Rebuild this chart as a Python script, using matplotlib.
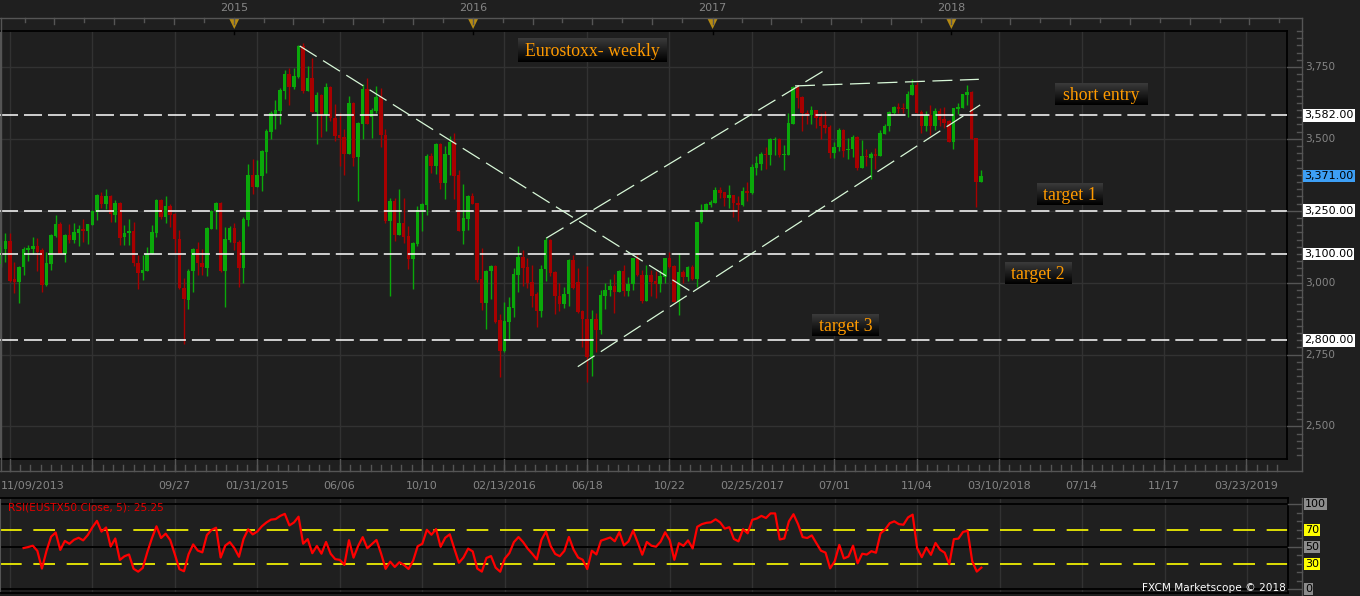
import numpy as np
import pandas as pd
import matplotlib
matplotlib.use('Agg')
import matplotlib.pyplot as plt
import matplotlib.dates as mdates
from matplotlib import transforms
from matplotlib.lines import Line2D
from matplotlib.patches import Polygon
from matplotlib.colors import LinearSegmentedColormap

# ---- data: Eurostoxx 50 weekly candles (first bar = week of 2014-01-04) ----
first_week = '2014-01-04'
opens = [
    3065, 3116, 3145, 3012, 3004, 3053, 3114, 3117, 3128, 3112,
    2993, 3066, 3163, 3204, 3100, 3165, 3149, 3173, 3187, 3178,
    3201, 3247, 3303, 3275, 3302, 3236, 3277, 3158, 3171, 3179,
    3069, 3032, 3042, 3100, 3174, 3288, 3230, 3267, 3239, 3152,
    2982, 2940, 3039, 3117, 3069, 3052, 3188, 3248, 3277, 3039,
    3150, 3190, 3142, 3052, 3219, 3375, 3334, 3372, 3455, 3525,
    3587, 3598, 3668, 3726, 3680, 3715, 3823, 3667, 3712, 3594,
    3653, 3583, 3680, 3574, 3514, 3507, 3449, 3625, 3436, 3553,
    3673, 3577, 3598, 3646, 3514, 3215, 3284, 3167, 3208, 3163,
    3083, 3135, 3251, 3270, 3441, 3407, 3482, 3348, 3445, 3489,
    3374, 3181, 3222, 3302, 3276, 3013, 2931, 3039, 3058, 2871,
    2761, 2865, 2913, 3028, 3091, 3055, 3003, 2959, 2902, 3046,
    3149, 3037, 2955, 2927, 2959, 3079, 3003, 2902, 2874, 2743,
    2874, 2834, 2955, 2973, 2989, 2969, 3041, 2971, 2995, 3085,
    3027, 2938, 3027, 3006, 2997, 3021, 3085, 3058, 2934, 3037,
    3020, 3055, 3013, 3210, 3251, 3271, 3278, 3322, 3315, 3296,
    3304, 3277, 3270, 3320, 3311, 3400, 3414, 3448, 3444, 3496,
    3500, 3445, 3445, 3553, 3679, 3646, 3591, 3582, 3600, 3577,
    3548, 3541, 3452, 3470, 3531, 3460, 3464, 3507, 3400, 3441,
    3435, 3448, 3442, 3518, 3543, 3591, 3611, 3607, 3605, 3654,
    3687, 3592, 3543, 3582, 3546, 3597, 3568, 3563, 3490, 3605,
    3609, 3654, 3663, 3502, 3351,
]
highs = [
    3149, 3172, 3172, 3071, 3057, 3123, 3131, 3159, 3156, 3120,
    3108, 3170, 3236, 3211, 3168, 3205, 3208, 3201, 3222, 3205,
    3251, 3307, 3315, 3326, 3304, 3288, 3279, 3201, 3222, 3210,
    3095, 3096, 3125, 3201, 3290, 3290, 3302, 3274, 3241, 3183,
    3018, 3048, 3119, 3141, 3118, 3194, 3251, 3281, 3280, 3193,
    3198, 3208, 3147, 3229, 3413, 3430, 3427, 3463, 3534, 3598,
    3635, 3677, 3740, 3747, 3748, 3826, 3833, 3753, 3781, 3663,
    3655, 3693, 3685, 3621, 3589, 3533, 3649, 3627, 3557, 3691,
    3712, 3607, 3684, 3677, 3533, 3295, 3295, 3326, 3294, 3197,
    3142, 3267, 3276, 3449, 3452, 3485, 3484, 3475, 3510, 3519,
    3392, 3343, 3304, 3311, 3278, 3121, 3044, 3060, 3060, 2891,
    2934, 2949, 3050, 3128, 3114, 3087, 3062, 2969, 3062, 3160,
    3151, 3041, 2998, 2986, 3081, 3096, 3051, 2904, 3059, 2905,
    2894, 2976, 2998, 3012, 3031, 3044, 3062, 3021, 3087, 3096,
    3044, 3062, 3044, 3041, 3044, 3087, 3108, 3060, 3102, 3044,
    3058, 3062, 3212, 3274, 3276, 3289, 3332, 3332, 3317, 3340,
    3306, 3302, 3332, 3350, 3413, 3441, 3456, 3470, 3502, 3507,
    3502, 3479, 3591, 3684, 3687, 3648, 3600, 3614, 3602, 3589,
    3597, 3548, 3489, 3537, 3534, 3504, 3514, 3509, 3496, 3465,
    3456, 3467, 3531, 3552, 3596, 3614, 3624, 3624, 3668, 3708,
    3697, 3602, 3597, 3617, 3609, 3609, 3610, 3566, 3609, 3625,
    3657, 3687, 3665, 3504, 3392,
]
lows = [
    3056, 3071, 3004, 2963, 2931, 3025, 3077, 3100, 3042, 2969,
    2990, 3044, 3158, 3098, 3073, 3137, 3138, 3129, 3143, 3136,
    3199, 3219, 3259, 3256, 3212, 3211, 3132, 3132, 3132, 3057,
    2977, 3010, 3040, 3098, 3160, 3220, 3209, 3192, 3102, 2978,
    2786, 2907, 2966, 3028, 3028, 3024, 3185, 3188, 3036, 2917,
    3142, 3112, 2986, 2999, 3198, 3310, 3332, 3320, 3383, 3500,
    3536, 3552, 3639, 3619, 3673, 3713, 3658, 3665, 3592, 3483,
    3507, 3529, 3561, 3494, 3407, 3376, 3447, 3407, 3285, 3500,
    3550, 3503, 3590, 3473, 3208, 2952, 3144, 3165, 3139, 3049,
    2978, 3128, 3180, 3237, 3382, 3378, 3326, 3291, 3376, 3291,
    3179, 3135, 3183, 3273, 3004, 2905, 2839, 2944, 2860, 2672,
    2759, 2800, 2879, 2966, 2990, 2983, 2916, 2846, 2882, 3007,
    3023, 2891, 2903, 2913, 2920, 2979, 2894, 2778, 2656, 2677,
    2758, 2820, 2910, 2952, 2894, 2967, 2952, 2952, 2975, 3023,
    2929, 2936, 2952, 2946, 2966, 2998, 3052, 2932, 2888, 2998,
    3007, 3011, 2984, 3208, 3249, 3262, 3276, 3294, 3267, 3261,
    3230, 3216, 3268, 3285, 3309, 3375, 3391, 3395, 3410, 3445,
    3436, 3393, 3443, 3551, 3606, 3529, 3551, 3550, 3539, 3500,
    3522, 3435, 3435, 3458, 3437, 3430, 3438, 3393, 3398, 3404,
    3362, 3395, 3440, 3516, 3529, 3587, 3591, 3591, 3577, 3651,
    3589, 3522, 3529, 3514, 3531, 3543, 3537, 3488, 3466, 3587,
    3607, 3616, 3498, 3262, 3349,
]
closes = [
    3125, 3145, 3007, 3004, 3055, 3117, 3122, 3128, 3108, 2993,
    3069, 3165, 3203, 3100, 3166, 3149, 3175, 3187, 3178, 3203,
    3248, 3305, 3275, 3302, 3238, 3277, 3157, 3173, 3180, 3068,
    3032, 3044, 3101, 3176, 3288, 3230, 3267, 3237, 3152, 2980,
    2942, 3041, 3117, 3068, 3054, 3190, 3249, 3277, 3039, 3152,
    3190, 3138, 3052, 3222, 3375, 3334, 3375, 3457, 3528, 3589,
    3600, 3670, 3726, 3680, 3719, 3823, 3668, 3712, 3594, 3653,
    3584, 3680, 3573, 3511, 3503, 3449, 3625, 3434, 3555, 3673,
    3552, 3600, 3646, 3512, 3215, 3284, 3167, 3207, 3160, 3084,
    3137, 3253, 3274, 3441, 3407, 3482, 3348, 3446, 3489, 3371,
    3181, 3225, 3302, 3275, 3010, 2931, 3042, 3058, 2865, 2761,
    2867, 2916, 3030, 3091, 3052, 2999, 2955, 2902, 3048, 3149,
    3035, 2952, 2927, 2962, 3079, 2981, 2898, 2873, 2743, 2874,
    2834, 2958, 2975, 2989, 2969, 3041, 2971, 2997, 3085, 3025,
    2938, 3027, 3003, 2997, 3024, 3085, 3054, 2934, 3037, 3020,
    3055, 3013, 3210, 3253, 3274, 3281, 3322, 3313, 3296, 3305,
    3276, 3270, 3320, 3311, 3402, 3417, 3448, 3444, 3500, 3500,
    3444, 3448, 3555, 3679, 3643, 3589, 3585, 3600, 3574, 3546,
    3539, 3452, 3472, 3531, 3459, 3466, 3507, 3400, 3441, 3436,
    3448, 3442, 3521, 3545, 3594, 3611, 3605, 3604, 3656, 3687,
    3591, 3543, 3582, 3546, 3597, 3567, 3554, 3490, 3607, 3611,
    3655, 3663, 3500, 3351, 3371,
]

levels = [3582, 3250, 3100, 2800]
last_price = 3371
price_ticks = [2500, 2750, 3000, 3250, 3500, 3750]
# 3,250 is hidden behind the 3,250.00 level box
price_tick_labels = ['2,500', '2,750', '3,000', '', '3,500', '3,750']

grid_start = '2014-01-18'          # one grid line every 18 weeks
date_labels = ['', '', '09/27', '01/31/2015', '06/06', '10/10', '02/13/2016',
               '06/18', '10/22', '02/25/2017', '07/01', '11/04', '03/10/2018',
               '07/14', '11/17', '03/23/2019']
first_label = '11/09/2013'
years = ['2015', '2016', '2017', '2018']

# hand-drawn trend lines (date, price)
trend_lines = [
    (('2015-04-06', 3823), ('2016-11-25', 2968)),
    (('2016-06-04', 2708), ('2018-02-09', 3618)),
    (('2016-04-17', 3155), ('2017-06-21', 3745)),
    (('2017-05-02', 3684), ('2018-02-07', 3707)),
]
notes = [
    ('Eurostoxx- weekly', 518, 38, 667, 62),
    ('short entry', 1055, 83, 1148, 105),
    ('target 1', 1037, 183, 1103, 205),
    ('target 2', 1005, 262, 1071, 284),
    ('target 3', 812, 314, 879, 336),
]

rsi_levels = [100, 70, 50, 30, 0]
rsi_period = 5
rsi_title = 'RSI(EUSTX50.Close, 5): 25.25'

# ---- colours ----
BG = '#1f1f1f'
GRID = '#323232'
FRAME = '#555555'
TXT = '#858585'
UP = '#0aa80a'
DOWN = '#a80000'

W, H = 1360, 596


def fx(x):
    return x / W


def fy(y):
    return 1 - y / H


plt.rcParams['font.family'] = ['DejaVu Sans']
fig = plt.figure(figsize=(W / 100, H / 100), dpi=100, facecolor=BG)

ax = fig.add_axes([0, fy(459), fx(1287), (459 - 31) / H])
ax.set_facecolor(BG)

dates = pd.date_range(first_week, periods=len(closes), freq='7D')
dn = mdates.date2num(dates)
o = np.array(opens, float)
h = np.array(highs, float)
l = np.array(lows, float)
c = np.array(closes, float)
cols = [UP if cc >= oo else DOWN for oo, cc in zip(o, c)]

base = mdates.date2num(pd.Timestamp('2014-05-24'))
xmin, xmax = base - 20.15 * 7, base + 260.85 * 7
ax.set_xlim(xmin, xmax)
ax.set_ylim(2387, 3875)

major = mdates.date2num(pd.date_range(grid_start, periods=len(date_labels), freq='126D'))
ax.set_xticks(major)
ax.set_yticks(price_ticks)
ax.grid(True, color=GRID, lw=1)
ax.set_axisbelow(True)
ax.tick_params(length=0, labelbottom=False, labelleft=False)
for s in ['top', 'right', 'bottom']:
    ax.spines[s].set_color('black')
    ax.spines[s].set_linewidth(1.3)
ax.spines['left'].set_color(FRAME)

ax.vlines(dn, l, h, colors=cols, lw=1, zorder=3)
body = np.maximum(np.abs(c - o), 4)
ax.bar(dn, body, bottom=np.minimum(o, c), width=5.4, color=cols, lw=0, zorder=4)

for lv in levels:
    ax.axhline(lv, color='white', lw=1.1, dashes=(11.8, 3.9), zorder=5)

for (d0, v0), (d1, v1) in trend_lines:
    ax.plot(mdates.date2num(pd.to_datetime([d0, d1])), [v0, v1], color='#d8f8d8',
            lw=0.9, dashes=(16, 6), zorder=6)

# ---- frame, ticks and labels around the price panel ----
bx = transforms.blended_transform_factory(ax.transData, fig.transFigure)
by = transforms.blended_transform_factory(fig.transFigure, ax.transData)


def fline(xs, ys, color=FRAME, lw=1, tr=None):
    fig.add_artist(Line2D(xs, ys, color=color, lw=lw,
                          transform=tr if tr is not None else fig.transFigure))


fline([0, fx(1302)], [fy(18), fy(18)])
fline([0, fx(1302)], [fy(471), fy(471)])
fline([fx(1302), fx(1302)], [fy(18), fy(471)])
fline([fx(0.5), fx(0.5)], [fy(18), fy(471)])

# right price axis
for v in range(2400, 3876, 25):
    if v % 250 == 0:
        fline([fx(1287), fx(1302)], [v, v], tr=by)
    else:
        fline([fx(1297), fx(1302)], [v, v], tr=by)
for v, s in zip(price_ticks, price_tick_labels):
    if s:
        fig.text(fx(1305), v, s, transform=by, color=TXT, fontsize=7.6, va='center')

for lv in levels:
    fig.text(fx(1304), lv, f'{lv:,.2f}', transform=by, color='black', fontsize=8, va='center',
             bbox=dict(boxstyle='square,pad=0.12', fc='white', ec='none'))
fig.text(fx(1304), last_price, f'{last_price:,.2f}', transform=by, color='black', fontsize=8,
         va='center', bbox=dict(boxstyle='square,pad=0.12', fc='#3d9ff5', ec='none'))

# bottom date axis
for d in major:
    fline([d, d], [fy(459), fy(471)], tr=bx)
minor = mdates.date2num(pd.date_range(grid_start, '2019-05-30', freq='378h'))
for d in minor:
    if xmin < d < xmax:
        fline([d, d], [fy(465), fy(471)], tr=bx)
for d, s in zip(major, date_labels):
    if s:
        fig.text(d, fy(486), s, transform=bx, color=TXT, fontsize=8, ha='center', va='center')
fig.text(fx(1), fy(486), first_label, color=TXT, fontsize=8, ha='left', va='center')

# top year strip
qs = pd.date_range('2014-01-01', '2019-07-01', freq='QS') - pd.Timedelta(days=5)
qn = mdates.date2num(qs)
for i, d in enumerate(qn):
    if xmin < d < xmax:
        fline([d, d], [fy(18), fy(24)], tr=bx)
    if i + 1 < len(qn):
        m = (d + qn[i + 1]) / 2
        if xmin < m < xmax:
            fline([m, m], [fy(18), fy(22)], tr=bx)
for yr in years:
    d = mdates.date2num(pd.Timestamp(f'{yr}-01-01')) - 5
    fig.add_artist(Polygon([[d - 7.5, fy(19)], [d + 7.5, fy(19)], [d, fy(29)]], closed=True,
                           fc='#b58a12', ec='none', transform=bx))
    fline([d, d], [fy(31), fy(34)], color='black', tr=bx)
    fig.text(d, fy(8), yr, transform=bx, color=TXT, fontsize=8, ha='center', va='center')

# annotation boxes
box_cmap = LinearSegmentedColormap.from_list('box', ['#000000', '#3a3a3a'])
for text, x0, y0, x1, y1 in notes:
    bax = fig.add_axes([fx(x0), fy(y1), (x1 - x0) / W, (y1 - y0) / H])
    bax.imshow(np.linspace(1, 0, 32).reshape(-1, 1), aspect='auto', cmap=box_cmap,
               extent=(0, 1, 0, 1))
    bax.axis('off')
    bax.text(0.5, 0.45, text, ha='center', va='center', color='#ff9a00', fontsize=12.8,
             family='Liberation Serif', transform=bax.transAxes)

# ---- RSI panel ----
ax2 = fig.add_axes([0, fy(593.3), fx(1287.7), (593.3 - 498.3) / H])
ax2.set_facecolor(BG)
ax2.set_xlim(xmin, xmax)
ax2.set_ylim(-4.7, 107.06)
ax2.set_xticks(major)
ax2.set_yticks([])
ax2.grid(True, axis='x', color=GRID, lw=1)
ax2.set_axisbelow(True)
ax2.tick_params(length=0, labelbottom=False, labelleft=False)
for s in ['top', 'right', 'bottom']:
    ax2.spines[s].set_color('black')
    ax2.spines[s].set_linewidth(1.3)
ax2.spines['left'].set_color(FRAME)
for lv in [100, 50, 0]:
    ax2.axhline(lv, color='black', lw=1.3)
for lv in [70, 30]:
    ax2.axhline(lv, color='#ffff00', lw=1.2, dashes=(13, 7))

# RSI of the weekly closes (Wilder smoothing), as the indicator is defined
d = np.diff(c)
g = np.clip(d, 0, None)
lo = np.clip(-d, 0, None)
n = rsi_period
ag, al = g[:n].mean(), lo[:n].mean()
rsi = [np.nan] * (n + 1)
rsi[n] = 100 - 100 / (1 + ag / al)
for i in range(n, len(d)):
    ag = (ag * (n - 1) + g[i]) / n
    al = (al * (n - 1) + lo[i]) / n
    rsi.append(100 - 100 / (1 + ag / al))
ax2.plot(dn, rsi, color='#ff0000', lw=1.6, zorder=5)

ax2.text(fx(8), 0.905, rsi_title,
         transform=transforms.blended_transform_factory(fig.transFigure, ax2.transAxes),
         color='#e80000', fontsize=7.6, va='center')
fig.text(fx(1286), fy(588), 'FXCM Marketscope \u00a9 2018', color='white', fontsize=7.6,
         ha='right', va='center')

by2 = transforms.blended_transform_factory(fig.transFigure, ax2.transData)
fline([fx(1302), fx(1302)], [fy(498), 0])
for v in range(0, 101, 10):
    if v % 50 == 0:
        fline([fx(1288), fx(1302)], [v, v], tr=by2)
    else:
        fline([fx(1297), fx(1302)], [v, v], tr=by2)
for lv in rsi_levels:
    fc = '#ffff00' if lv in (70, 30) else '#8c8c8c'
    fig.text(fx(1305), lv, str(lv), transform=by2, color='black', fontsize=8, va='center',
             bbox=dict(boxstyle='square,pad=0.08', fc=fc, ec='none'))

fig.savefig('out.png', dpi=100, facecolor=BG)
